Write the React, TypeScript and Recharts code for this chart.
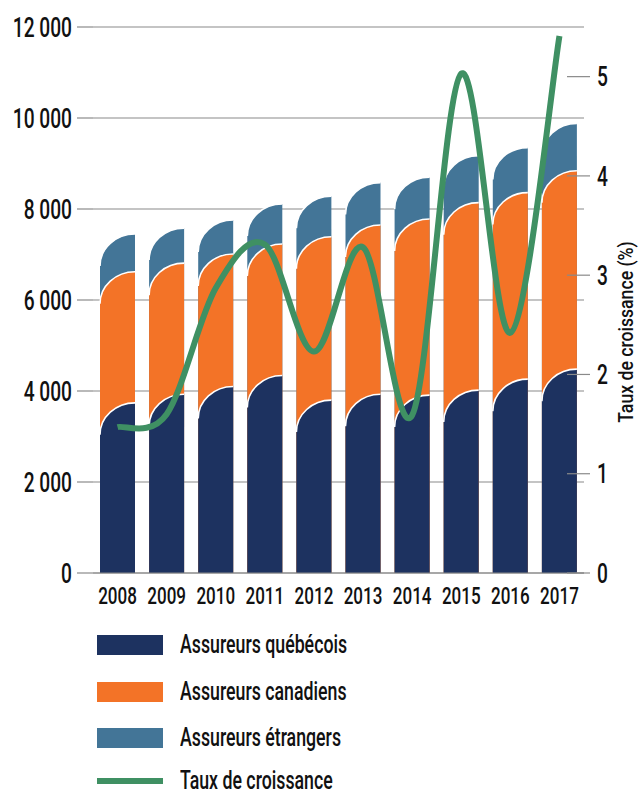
import { ComposedChart, Bar, Line, XAxis, YAxis, CartesianGrid } from 'recharts';

const years = ['2008', '2009', '2010', '2011', '2012', '2013', '2014', '2015', '2016', '2017'];
const quebecois = [3740, 3930, 4100, 4340, 3800, 3930, 3910, 4020, 4260, 4480];
const canadiens = [2880, 2880, 2910, 2890, 3590, 3720, 3870, 4120, 4100, 4360];
const etrangers = [830, 770, 750, 880, 890, 930, 920, 1030, 990, 1040];
const croissance = [1.47, 1.6, 2.87, 3.31, 2.23, 3.28, 1.59, 5.03, 2.42, 5.41];

const leftTicks = [0, 2000, 4000, 6000, 8000, 10000, 12000];
const rightTicks = [0, 1, 2, 3, 4, 5];

const NAVY = '#1d3260';
const ORANGE = '#f37327';
const STEEL = '#437597';
const GREEN = '#3f9063';
const GRID = '#8a8a8a';
const INK = '#111111';
const FONT = 'Roboto, "Noto Sans", sans-serif';
const WEIGHT = 500;
const SQUEEZE = 0.71; // condensed look, the original uses a narrow face

// bars are overlaid (not stacked), so each one goes from 0 to its cumulative top
const data = years.map((year, i) => ({
  year,
  q: quebecois[i],
  qc: quebecois[i] + canadiens[i],
  total: quebecois[i] + canadiens[i] + etrangers[i],
  rate: croissance[i],
}));

const legendItems = [
  { label: 'Assureurs québécois', color: NAVY, kind: 'box' },
  { label: 'Assureurs canadiens', color: ORANGE, kind: 'box' },
  { label: 'Assureurs étrangers', color: STEEL, kind: 'box' },
  { label: 'Taux de croissance', color: GREEN, kind: 'line' },
];

const fmt = (v: number) => String(v).replace(/\B(?=(\d{3})+(?!\d))/g, ' ');

// smooth line like a spreadsheet "smoothed line" (catmull-rom through the points)
const smooth = (context: any) => {
  let pts: number[][] = [];
  return {
    areaStart() {},
    areaEnd() {},
    lineStart() {
      pts = [];
    },
    point(x: number, y: number) {
      pts.push([+x, +y]);
    },
    lineEnd() {
      if (!pts.length) return;
      context.moveTo(pts[0][0], pts[0][1]);
      for (let i = 0; i < pts.length - 1; i++) {
        const p0 = pts[i - 1] || pts[i];
        const p1 = pts[i];
        const p2 = pts[i + 1];
        const p3 = pts[i + 2] || p2;
        context.bezierCurveTo(
          p1[0] + (p2[0] - p0[0]) / 6,
          p1[1] + (p2[1] - p0[1]) / 6,
          p2[0] - (p3[0] - p1[0]) / 6,
          p2[1] - (p3[1] - p1[1]) / 6,
          p2[0],
          p2[1]
        );
      }
    },
  };
};

function ArchBar(props: any) {
  const { x, y, width: w, height: h, fill } = props;
  if (!h || h <= 0) return null;
  const r = Math.min(32, h);
  return (
    <g>
      <path d={`M${x},${y + h} L${x},${y + r} A${w},${r} 0 0 1 ${x + w},${y} L${x + w},${y + h} Z`} fill={fill} />
      <path d={`M${x},${y + r} A${w},${r} 0 0 1 ${x + w},${y}`} fill="none" stroke="#ffffff" strokeWidth={1.6} />
    </g>
  );
}

function YearTick(props: any) {
  const { x, y, payload } = props;
  return (
    <text
      transform={`translate(${x},${y + 31}) scale(${SQUEEZE},1)`}
      textAnchor="middle"
      fontSize={24}
      fontWeight={WEIGHT}
      fontFamily={FONT}
      fill={INK}
    >
      {payload.value}
    </text>
  );
}

function LeftTick(props: any) {
  const { x, y, payload } = props;
  return (
    <text
      transform={`translate(${x},${y}) scale(${SQUEEZE},1)`}
      dy="0.36em"
      textAnchor="end"
      fontSize={27}
      fontWeight={WEIGHT}
      fontFamily={FONT}
      fill={INK}
    >
      {fmt(payload.value)}
    </text>
  );
}

function RightTick(props: any) {
  const { x, y, payload } = props;
  return (
    <g>
      <line x1={x - 17} y1={y} x2={x + 6} y2={y} stroke={GRID} strokeWidth={1.2} />
      <text
        transform={`translate(${x + 13},${y}) scale(${SQUEEZE},1)`}
        dy="0.36em"
        textAnchor="start"
        fontSize={27}
        fontWeight={WEIGHT}
        fontFamily={FONT}
        fill={INK}
      >
        {payload.value}
      </text>
    </g>
  );
}

export default function App() {
  return (
    <div style={{ position: 'absolute', left: 0, top: 0, width: 640, height: 796, background: '#fff', fontFamily: FONT }}>
      <ComposedChart width={640} height={620} data={data} margin={{ top: 27, right: 0, bottom: 7, left: 0 }} barGap={-35}>
        <CartesianGrid yAxisId="left" vertical={false} stroke={GRID} strokeWidth={1.2} />
        <XAxis
          dataKey="year"
          height={40}
          tickLine={false}
          tickSize={0}
          tickMargin={0}
          axisLine={{ stroke: GRID, strokeWidth: 1.2 }}
          tick={<YearTick />}
        />
        <YAxis
          yAxisId="left"
          width={93}
          domain={[0, 12000]}
          ticks={leftTicks}
          axisLine={false}
          tickSize={16}
          tickMargin={5}
          tickLine={{ stroke: GRID, strokeWidth: 1.2 }}
          tick={<LeftTick />}
        />
        <YAxis
          yAxisId="right"
          orientation="right"
          width={56}
          domain={[0, 5.5]}
          ticks={rightTicks}
          axisLine={false}
          tickLine={false}
          tickSize={0}
          tickMargin={0}
          tick={<RightTick />}
        />
        <Bar yAxisId="left" dataKey="total" fill={STEEL} barSize={35} shape={<ArchBar />} isAnimationActive={false} />
        <Bar yAxisId="left" dataKey="qc" fill={ORANGE} barSize={35} shape={<ArchBar />} isAnimationActive={false} />
        <Bar yAxisId="left" dataKey="q" fill={NAVY} barSize={35} shape={<ArchBar />} isAnimationActive={false} />
        <Line
          yAxisId="right"
          dataKey="rate"
          type={smooth as any}
          stroke={GREEN}
          strokeWidth={6}
          dot={false}
          activeDot={false}
          isAnimationActive={false}
        />
      </ComposedChart>
      <div
        style={{
          position: 'absolute',
          left: 626,
          top: 332,
          transform: 'translate(-50%, -50%) rotate(-90deg) scaleX(0.84)',
          whiteSpace: 'nowrap',
          fontSize: 21,
          fontWeight: WEIGHT,
          lineHeight: '24px',
          color: INK,
        }}
      >
        Taux de croissance (%)
      </div>
      {legendItems.map((item, i) => {
        const cy = [645, 692, 738, 781][i];
        return (
          <div
            key={item.label}
            style={{ position: 'absolute', left: 97, top: cy - 12, height: 24, display: 'flex', alignItems: 'center' }}
          >
            <div
              style={{
                width: 66,
                height: item.kind === 'box' ? 20 : 6,
                background: item.color,
                marginRight: 17,
                flexShrink: 0,
              }}
            />
            <span
              style={{
                display: 'inline-block',
                fontSize: 25,
                fontWeight: WEIGHT,
                lineHeight: '24px',
                color: INK,
                whiteSpace: 'nowrap',
                transform: `scaleX(${SQUEEZE})`,
                transformOrigin: 'left center',
              }}
            >
              {item.label}
            </span>
          </div>
        );
      })}
    </div>
  );
}
